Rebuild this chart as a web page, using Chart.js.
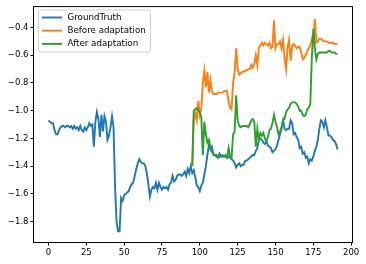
<!DOCTYPE html>
<html>
<head>
<meta charset="utf-8">
<script src="https://cdn.jsdelivr.net/npm/chart.js@4/dist/chart.umd.min.js"></script>
<style>
  html, body { margin: 0; padding: 0; background: #fff; }
  #wrap { width: 366px; height: 264px; position: relative; }
</style>
</head>
<body>
<div id="wrap"><canvas id="chart" width="366" height="264"></canvas></div>
<script>
// values, one per step
const gtY = [
  -1.07, -1.08, -1.09, -1.09, -1.14, -1.17, -1.17, -1.14, -1.12, -1.11, -1.11, -1.12,
  -1.11, -1.11, -1.12, -1.11, -1.13, -1.11, -1.13, -1.12, -1.14, -1.11, -1.14, -1.15,
  -1.12, -1.14, -1.12, -1.09, -1.11, -1.10, -1.26, -1.08, -1.01, -1.06, -1.19, -1.03,
  -1.15, -1.04, -1.08, -1.21, -1.18, -1.12, -1.04, -1.12, -1.55, -1.80, -1.87, -1.87,
  -1.63, -1.65, -1.61, -1.60, -1.59, -1.58, -1.55, -1.53, -1.52, -1.47, -1.42, -1.38,
  -1.35, -1.37, -1.38, -1.38, -1.40, -1.45, -1.53, -1.62, -1.57, -1.55, -1.56, -1.52,
  -1.57, -1.52, -1.55, -1.57, -1.55, -1.56, -1.55, -1.57, -1.53, -1.52, -1.47, -1.51,
  -1.50, -1.47, -1.46, -1.46, -1.47, -1.46, -1.44, -1.47, -1.42, -1.45, -1.40, -1.45,
  -1.43, -1.48, -1.54, -1.55, -1.58, -1.54, -1.52, -1.46, -1.40, -1.32, -1.25, -1.28,
  -1.26, -1.32, -1.32, -1.33, -1.34, -1.31, -1.33, -1.32, -1.33, -1.32, -1.34, -1.33,
  -1.34, -1.35, -1.36, -1.38, -1.41, -1.39, -1.38, -1.40, -1.39, -1.39, -1.36, -1.36,
  -1.35, -1.34, -1.33, -1.32, -1.32, -1.29, -1.27, -1.21, -1.20, -1.21, -1.23, -1.24,
  -1.22, -1.25, -1.26, -1.27, -1.30, -1.29, -1.28, -1.25, -1.21, -1.17, -1.13, -1.07,
  -1.13, -1.14, -1.13, -1.13, -1.07, -1.09, -1.17, -1.16, -1.19, -1.21, -1.27, -1.26,
  -1.31, -1.30, -1.34, -1.33, -1.38, -1.35, -1.36, -1.33, -1.29, -1.26, -1.21, -1.13,
  -1.07, -1.08, -1.12, -1.07, -1.12, -1.18, -1.18, -1.19, -1.21, -1.22, -1.24, -1.28
]

// both predictions start at step 95
const predStart = 95

const beforeY = [
  -1.40, -1.06, -1.02, -1.07, -0.93, -1.03, -0.98, -0.80, -0.71, -0.83, -0.72, -0.87,
  -0.78, -0.86, -0.88, -0.88, -0.88, -0.87, -0.87, -0.87, -0.87, -0.86, -0.86, -0.86,
  -0.93, -0.98, -0.99, -0.80, -0.72, -0.55, -0.70, -0.74, -0.73, -0.72, -0.72, -0.71,
  -0.71, -0.70, -0.70, -0.67, -0.69, -0.66, -0.60, -0.67, -0.55, -0.53, -0.51, -0.53,
  -0.51, -0.52, -0.53, -0.51, -0.55, -0.54, -0.35, -0.55, -0.52, -0.52, -0.50, -0.55,
  -0.49, -0.62, -0.70, -0.54, -0.49, -0.64, -0.54, -0.52, -0.53, -0.55, -0.54, -0.54,
  -0.58, -0.63, -0.62, -0.60, -0.57, -0.55, -0.53, -0.48, -0.50, -0.34, -0.51, -0.50,
  -0.48, -0.48, -0.49, -0.50, -0.50, -0.50, -0.51, -0.51, -0.51, -0.51, -0.52, -0.52,
  -0.52
]

const afterY = [
  -1.40, -1.00, -0.99, -0.98, -1.00, -1.01, -1.05, -1.32, -1.08, -1.17, -1.23, -1.21,
  -1.26, -1.30, -1.31, -1.32, -1.32, -1.33, -1.33, -1.33, -1.33, -1.33, -1.33, -1.34,
  -1.27, -1.33, -1.34, -1.17, -1.15, -0.89, -1.07, -1.11, -1.12, -1.11, -1.11, -1.11,
  -1.11, -1.12, -1.10, -1.07, -1.06, -1.08, -1.26, -1.13, -1.21, -1.16, -1.18, -1.16,
  -1.20, -1.22, -1.19, -1.14, -1.13, -1.09, -1.03, -1.08, -1.12, -1.17, -1.15, -1.12,
  -1.07, -1.06, -1.01, -0.99, -0.98, -0.95, -0.94, -0.94, -0.94, -0.95, -0.97, -1.00,
  -1.00, -1.03, -1.04, -1.03, -0.99, -0.98, -0.95, -0.62, -0.41, -0.55, -0.63, -0.59,
  -0.58, -0.58, -0.58, -0.58, -0.58, -0.58, -0.57, -0.57, -0.58, -0.58, -0.58, -0.59,
  -0.59
]

const seriesNames = ['GroundTruth', 'Before adaptation', 'After adaptation']
const seriesColors = ['#1f77b4', '#ff7f0e', '#2ca02c']
const xTicks = [0, 25, 50, 75, 100, 125, 150, 175, 200]
const yTicks = [-1.8, -1.6, -1.4, -1.2, -1.0, -0.8, -0.6, -0.4]

function points(values, start) {
  return values.map((v, i) => ({ x: start + i, y: v }))
}

const FONT = 'DejaVu Sans'
const minus = (s) => s.replace('-', '\u2212')

// matplotlib style frame + legend box inside the axes
const framePlugin = {
  id: 'frame',
  afterDraw(chart) {
    const { ctx, chartArea: a } = chart
    ctx.save()
    ctx.strokeStyle = '#000'
    ctx.lineWidth = 1
    ctx.strokeRect(a.left - 0.5, a.top - 0.5, a.right - a.left + 1, a.bottom - a.top + 1)

    // legend
    const bx = 38.5, by = 10, bw = 112, bh = 42
    ctx.fillStyle = 'rgba(255,255,255,0.8)'
    ctx.strokeStyle = '#d0d0d0'
    ctx.lineWidth = 1
    ctx.beginPath()
    ctx.roundRect(bx, by, bw, bh, 2)
    ctx.fill()
    ctx.stroke()
    ctx.font = '8.7px "' + FONT + '"'
    ctx.textBaseline = 'middle'
    seriesNames.forEach((name, i) => {
      const y = 17.5 + i * 13.2
      ctx.strokeStyle = seriesColors[i]
      ctx.lineWidth = 1.9
      ctx.beginPath()
      ctx.moveTo(42, y)
      ctx.lineTo(62, y)
      ctx.stroke()
      ctx.fillStyle = '#000'
      ctx.fillText(name, 67.5, y)
    })
    ctx.restore()
  }
}

window.addEventListener('load', function () {
  const ctx = document.getElementById('chart')
  new Chart(ctx, {
    type: 'line',
    data: {
      datasets: [
        {
          label: seriesNames[0],
          data: points(gtY, 0),
          borderColor: seriesColors[0],
          order: 3
        },
        {
          label: seriesNames[1],
          data: points(beforeY, predStart),
          borderColor: seriesColors[1],
          order: 2
        },
        {
          label: seriesNames[2],
          data: points(afterY, predStart),
          borderColor: seriesColors[2],
          order: 1
        }
      ]
    },
    options: {
      responsive: false,
      animation: false,
      layout: { padding: { left: 0, top: 5, right: 14, bottom: 0 } },
      elements: {
        point: { radius: 0 },
        line: { borderWidth: 1.9, tension: 0, fill: false }
      },
      plugins: {
        legend: { display: false },
        tooltip: { enabled: false }
      },
      scales: {
        x: {
          type: 'linear',
          min: -9.55,
          max: 200.55,
          afterBuildTicks: (s) => { s.ticks = xTicks.map(v => ({ value: v })) },
          afterFit: (s) => { s.height = 22 },
          grid: { drawOnChartArea: false, drawTicks: true, tickLength: 3.5, tickColor: '#000', tickWidth: 1 },
          border: { display: false },
          ticks: {
            color: '#000',
            padding: 2,
            maxRotation: 0,
            autoSkip: false,
            font: { family: FONT, size: 8.5 },
            callback: (v) => String(v)
          }
        },
        y: {
          min: -1.947,
          max: -0.253,
          afterBuildTicks: (s) => { s.ticks = yTicks.map(v => ({ value: v })) },
          afterFit: (s) => { s.width = 34 },
          grid: { drawOnChartArea: false, drawTicks: true, tickLength: 3.5, tickColor: '#000', tickWidth: 1 },
          border: { display: false },
          ticks: {
            color: '#000',
            padding: 2,
            autoSkip: false,
            font: { family: FONT, size: 8.5 },
            callback: (v) => minus(v.toFixed(1))
          }
        }
      }
    },
    plugins: [framePlugin]
  })
})
</script>
</body>
</html>
